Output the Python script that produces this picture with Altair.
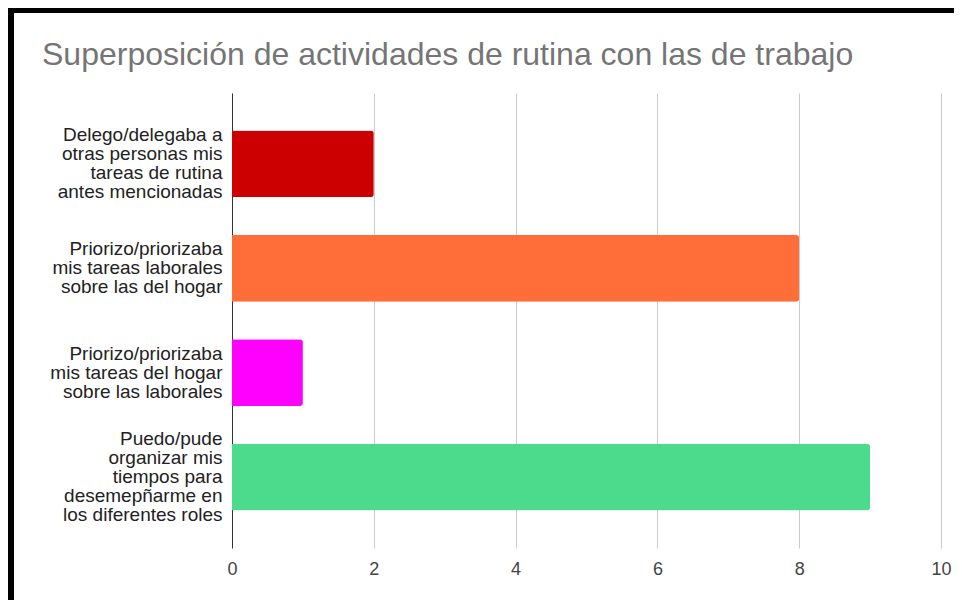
import altair as alt
import pandas as pd

title_text = "Superposición de actividades de rutina con las de trabajo"
categories = [
    "Delego/delegaba a\notras personas mis\ntareas de rutina\nantes mencionadas",
    "Priorizo/priorizaba\nmis tareas laborales\nsobre las del hogar",
    "Priorizo/priorizaba\nmis tareas del hogar\nsobre las laborales",
    "Puedo/pude\norganizar mis\ntiempos para\ndesemepñarme en\nlos diferentes roles",
]
values = [2, 8, 1, 9]
colors = ["#cc0000", "#ff6d38", "#ff00ff", "#4cdb8c"]
x_ticks = [0, 2, 4, 6, 8, 10]

df = pd.DataFrame({"cat": categories, "val": values, "color": colors})

FONT = "Liberation Sans"
LH = 19
nlines = "length(split(datum.value, '\\n'))"

bars = alt.Chart(df).mark_bar(cornerRadiusEnd=3).encode(
    y=alt.Y(
        "cat:N",
        sort=None,
        scale=alt.Scale(paddingInner=0.36, paddingOuter=0.36),
        axis=alt.Axis(
            title=None,
            labelExpr="split(datum.label, '\\n')",
            labelFontSize=19,
            labelFont=FONT,
            labelColor="#222222",
            labelLineHeight=LH,
            labelPadding=10,
            labelLimit=300,
            labelOffset={
                "condition": [
                    {"test": nlines + " == 5", "value": -2 * LH},
                    {"test": nlines + " == 4", "value": -1.5 * LH},
                ],
                "value": -1 * LH,
            },
            ticks=False,
            domainColor="#333333",
            domainWidth=1,
            grid=False,
        ),
    ),
    x=alt.X(
        "val:Q",
        scale=alt.Scale(domain=[0, 10]),
        axis=alt.Axis(
            values=x_ticks,
            title=None,
            domain=False,
            ticks=False,
            grid=True,
            gridColor="#cccccc",
            gridWidth=1,
            labelFontSize=18,
            labelFont=FONT,
            labelColor="#444444",
            labelPadding=12,
            labelFlush=False,
            format="d",
        ),
    ),
    color=alt.Color("color:N", scale=None, legend=None),
)

frame = pd.DataFrame({"k": [0]})
top_border = alt.Chart(frame).mark_rule(color="black", strokeWidth=6).encode(
    x=alt.value(-224), x2=alt.value(740), y=alt.value(-83)
)
left_border = alt.Chart(frame).mark_rule(color="black", strokeWidth=6).encode(
    x=alt.value(-221), y=alt.value(-83), y2=alt.value(530)
)

chart = alt.layer(bars, top_border, left_border).properties(
    width=709,
    height=455,
    autosize=alt.AutoSizeParams(type="none"),
    padding={"left": 224, "top": 85, "right": 13, "bottom": 52},
    background="white",
    title=alt.TitleParams(
        title_text,
        anchor="start",
        frame="group",
        fontSize=32,
        font=FONT,
        fontWeight="normal",
        color="#757575",
        dx=-190,
        baseline="alphabetic",
        offset=-90,
    ),
).configure_view(stroke=None)

chart.save("out.html", embed_options={"renderer": "svg", "actions": False})
